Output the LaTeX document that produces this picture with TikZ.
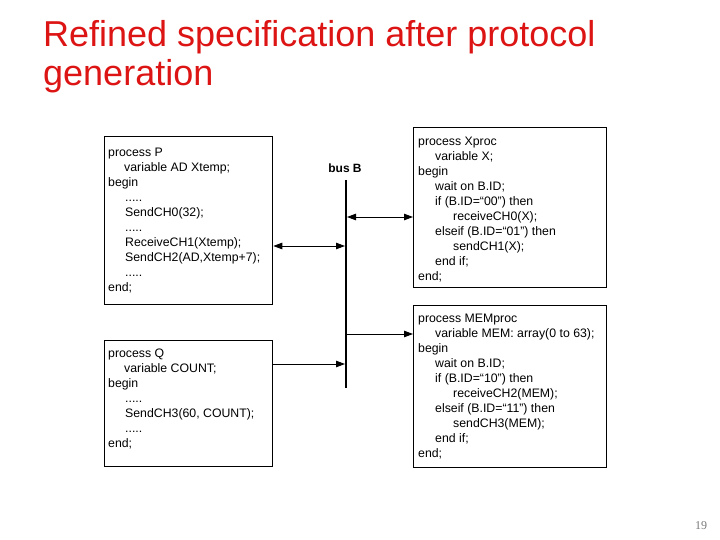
\documentclass[tikz,border=0pt]{standalone}
\usepackage{fontspec}
\setmainfont{Liberation Sans}
\newfontfamily\pagenumfont{Liberation Serif}
\usetikzlibrary{arrows.meta}
\definecolor{titlered}{RGB}{221,20,20}
\definecolor{pagegray}{RGB}{120,120,120}
\begin{document}
\begin{tikzpicture}[x=1pt,y=-1pt,
  procbox/.style={draw, line width=1.3pt, anchor=north west, inner sep=0pt},
  code/.style={anchor=base west, align=left, inner sep=0pt,
    font=\fontsize{12.3}{15}\selectfont},
  bidir/.style={line width=0.9pt, {Triangle[length=9pt,width=6.5pt]}-{Triangle[length=9pt,width=6.5pt]}},
  unidir/.style={line width=0.9pt, -{Triangle[length=9pt,width=6.5pt]}},
  busline/.style={line width=2.4pt}]
\useasboundingbox (0,0) rectangle (720,540);
% title (base anchor = baseline of last line)
\node[anchor=base west, inner sep=0pt, align=left, text=titlered,
  font=\fontsize{36}{39}\selectfont] (title) at (43,86)
  {Refined specification after protocol\\generation};
% boxes
\node[procbox, minimum width=168pt, minimum height=168pt] (P) at (104,136) {};
\node[procbox, minimum width=168pt, minimum height=126pt] (Q) at (104,340) {};
\node[procbox, minimum width=193pt, minimum height=160pt] (X) at (413,127) {};
\node[procbox, minimum width=193pt, minimum height=162pt] (M) at (413,305) {};
% code texts (positioned by baseline of last line)
\node[code] (Ptext) at (108,291) {process P\\
\hspace*{16pt}variable AD Xtemp;\\
begin\\
\hspace*{17pt}.....\\
\hspace*{17pt}SendCH0(32);\\
\hspace*{17pt}.....\\
\hspace*{17pt}ReceiveCH1(Xtemp);\\
\hspace*{17pt}SendCH2(AD,Xtemp+7);\\
\hspace*{17pt}.....\\
end;};
\node[code] (Qtext) at (108,447) {process Q\\
\hspace*{16pt}variable COUNT;\\
begin\\
\hspace*{17pt}.....\\
\hspace*{17pt}SendCH3(60, COUNT);\\
\hspace*{17pt}.....\\
end;};
\node[code] (Xtext) at (418,280) {process Xproc\\
\hspace*{17pt}variable X;\\
begin\\
\hspace*{17pt}wait on B.ID;\\
\hspace*{17pt}if (B.ID=``00'') then\\
\hspace*{35pt}receiveCH0(X);\\
\hspace*{17pt}elseif (B.ID=``01'') then\\
\hspace*{35pt}sendCH1(X);\\
\hspace*{17pt}end if;\\
end;};
\node[code] (Mtext) at (418,457) {process MEMproc\\
\hspace*{17pt}variable MEM: array(0 to 63);\\
begin\\
\hspace*{17pt}wait on B.ID;\\
\hspace*{17pt}if (B.ID=``10'') then\\
\hspace*{35pt}receiveCH2(MEM);\\
\hspace*{17pt}elseif (B.ID=``11'') then\\
\hspace*{35pt}sendCH3(MEM);\\
\hspace*{17pt}end if;\\
end;};
% bus
\coordinate (btop) at (346,180);
\coordinate (bbot) at (346,388);
\draw[busline] (btop) -- (bbot);
\node[font=\fontsize{12}{14}\selectfont\bfseries, inner sep=0pt] (blabel) at (345,168) {bus B};
% connectors
\coordinate (bX) at (347,217);
\coordinate (bP) at (345,246);
\coordinate (bM) at (347,334);
\coordinate (bQ) at (345,364);
\draw[bidir] (bX) -- (X.west |- bX);
\draw[bidir] (P.east |- bP) -- (bP);
\draw[unidir] (bM) -- (M.west |- bM);
\draw[unidir] (Q.east |- bQ) -- (bQ);
% page number
\node[text=pagegray, font=\pagenumfont\fontsize{12}{14}\selectfont, inner sep=0pt] (pnum) at (701,526) {19};
\end{tikzpicture}
\end{document}
